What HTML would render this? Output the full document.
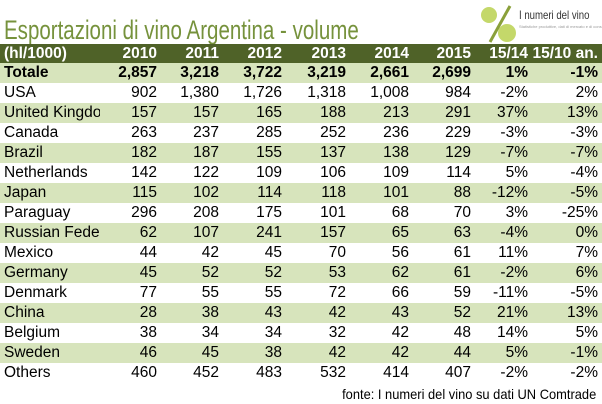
<!DOCTYPE html>
<html><head><meta charset="utf-8"><style>
body{margin:0;width:602px;height:404px;background:#fff;position:relative;overflow:hidden;font-family:"Liberation Sans",sans-serif;}
.title{position:absolute;left:4px;top:15px;font-size:27px;color:#76923c;white-space:nowrap;transform:scaleX(0.76);transform-origin:left top;}
table{position:absolute;left:0;top:44px;border-collapse:collapse;width:602px;font-size:15.5px;}
td{height:20px;padding:0;text-align:right;white-space:nowrap;}
td:first-child{text-align:left;padding-left:4px;overflow:hidden;max-width:96px;}
tr.h td{background:#4f6228;color:#fff;font-weight:bold;height:19px;}
tr.g td{background:#d7e4bc;}
tr.b td{font-weight:bold;}
td:last-child{padding-right:4px;}
.src{position:absolute;right:6px;top:386px;font-size:14px;color:#000;transform:scaleX(0.92);transform-origin:right top;}
</style></head><body>
<svg style="position:absolute;left:478px;top:2px" width="40" height="42"><circle cx="11" cy="13" r="8" fill="#c4d86a"/><circle cx="29" cy="31" r="9" fill="#c4d86a"/><line x1="32" y1="4" x2="12" y2="40" stroke="#8aa03a" stroke-width="3"/></svg>
<div style="position:absolute;left:519px;top:8px;font-size:12px;color:#333;white-space:nowrap;transform:scaleX(0.8);transform-origin:left top">I numeri del vino</div>
<div style="position:absolute;left:519px;top:24px;font-size:4px;color:#999;white-space:nowrap">Statistiche produttive, dati di mercato e di consumo</div>
<div class="title">Esportazioni di vino Argentina - volume</div>
<table>
<colgroup><col style="width:100px"><col style="width:57px"><col style="width:62px"><col style="width:63px"><col style="width:64px"><col style="width:63px"><col style="width:62px"><col style="width:57px"><col style="width:74px;"></colgroup>
<tr class="h"><td>(hl/1000)</td><td>2010</td><td>2011</td><td>2012</td><td>2013</td><td>2014</td><td>2015</td><td>15/14</td><td>15/10 an.</td></tr>
<tr class="g b"><td>Totale</td><td>2,857</td><td>3,218</td><td>3,722</td><td>3,219</td><td>2,661</td><td>2,699</td><td>1%</td><td>-1%</td></tr>
<tr><td>USA</td><td>902</td><td>1,380</td><td>1,726</td><td>1,318</td><td>1,008</td><td>984</td><td>-2%</td><td>2%</td></tr>
<tr class="g"><td>United Kingdom</td><td>157</td><td>157</td><td>165</td><td>188</td><td>213</td><td>291</td><td>37%</td><td>13%</td></tr>
<tr><td>Canada</td><td>263</td><td>237</td><td>285</td><td>252</td><td>236</td><td>229</td><td>-3%</td><td>-3%</td></tr>
<tr class="g"><td>Brazil</td><td>182</td><td>187</td><td>155</td><td>137</td><td>138</td><td>129</td><td>-7%</td><td>-7%</td></tr>
<tr><td>Netherlands</td><td>142</td><td>122</td><td>109</td><td>106</td><td>109</td><td>114</td><td>5%</td><td>-4%</td></tr>
<tr class="g"><td>Japan</td><td>115</td><td>102</td><td>114</td><td>118</td><td>101</td><td>88</td><td>-12%</td><td>-5%</td></tr>
<tr><td>Paraguay</td><td>296</td><td>208</td><td>175</td><td>101</td><td>68</td><td>70</td><td>3%</td><td>-25%</td></tr>
<tr class="g"><td>Russian Federation</td><td>62</td><td>107</td><td>241</td><td>157</td><td>65</td><td>63</td><td>-4%</td><td>0%</td></tr>
<tr><td>Mexico</td><td>44</td><td>42</td><td>45</td><td>70</td><td>56</td><td>61</td><td>11%</td><td>7%</td></tr>
<tr class="g"><td>Germany</td><td>45</td><td>52</td><td>52</td><td>53</td><td>62</td><td>61</td><td>-2%</td><td>6%</td></tr>
<tr><td>Denmark</td><td>77</td><td>55</td><td>55</td><td>72</td><td>66</td><td>59</td><td>-11%</td><td>-5%</td></tr>
<tr class="g"><td>China</td><td>28</td><td>38</td><td>43</td><td>42</td><td>43</td><td>52</td><td>21%</td><td>13%</td></tr>
<tr><td>Belgium</td><td>38</td><td>34</td><td>34</td><td>32</td><td>42</td><td>48</td><td>14%</td><td>5%</td></tr>
<tr class="g"><td>Sweden</td><td>46</td><td>45</td><td>38</td><td>42</td><td>42</td><td>44</td><td>5%</td><td>-1%</td></tr>
<tr><td>Others</td><td>460</td><td>452</td><td>483</td><td>532</td><td>414</td><td>407</td><td>-2%</td><td>-2%</td></tr>
</table>
<div class="src">fonte: I numeri del vino su dati UN Comtrade</div>
</body></html>
